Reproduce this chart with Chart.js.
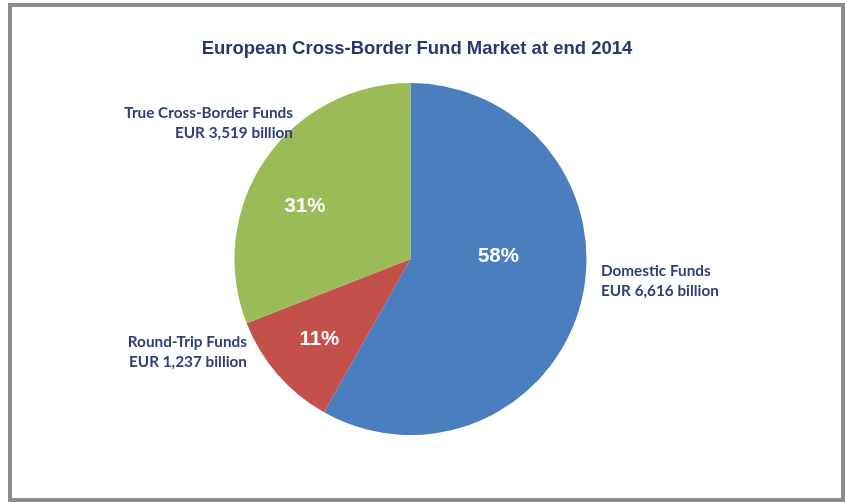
<!DOCTYPE html>
<html>
<head>
<meta charset="utf-8">
<script src="https://cdn.jsdelivr.net/npm/chart.js@4"></script>
<style>
  html, body { margin: 0; padding: 0; background: #ffffff; }
  body { width: 845px; height: 502px; position: relative; overflow: hidden; }
  #frame {
    position: absolute; left: 8px; top: 3px;
    width: 829px; height: 491px;
    border: 4px solid #8c8c8c; background: #ffffff;
  }
  #chart { position: absolute; left: 0; top: 0; }
</style>
</head>
<body>
<div id="frame"></div>
<canvas id="chart" width="845" height="502"></canvas>
<script>
// Fund market segments, EUR billion, end 2014
const categories = ['Domestic Funds', 'Round-Trip Funds', 'True Cross-Border Funds'];
const values = [6616, 1237, 3519];
const colors = ['#4a7ebf', '#c4504c', '#9bbb59'];
const titleText = 'European Cross-Border Fund Market at end 2014';

// Label placement, in units of the pie radius / share of each slice's sweep
const pctLabelLayout = [
  { along: 0.42, radial: 0.50 },
  { along: 0.49, radial: 0.69 },
  { along: 0.43, radial: 0.67 }
];
const nameLabelLayout = [
  { dx: 1.082, dy: 0.125, align: 'left' },
  { dx: -0.929, dy: 0.531, align: 'right' },
  { dx: -0.668, dy: -0.773, align: 'right' }
];

const total = values.reduce((a, b) => a + b, 0);

const labelsPlugin = {
  id: 'pieLabels',
  afterDraw(chart) {
    const ctx = chart.ctx;
    const arcs = chart.getDatasetMeta(0).data;
    ctx.save();

    // title
    ctx.fillStyle = '#26396f';
    ctx.font = 'bold 18.5px "Liberation Sans", Arial, sans-serif';
    ctx.textAlign = 'center';
    ctx.textBaseline = 'middle';
    ctx.fillText(titleText, 417, 49);

    arcs.forEach((arc, i) => {
      const p = arc.getProps(['x', 'y', 'startAngle', 'endAngle', 'outerRadius'], true);
      const r = p.outerRadius;

      // percentage inside the slice
      const a = p.startAngle + (p.endAngle - p.startAngle) * pctLabelLayout[i].along;
      const d = r * pctLabelLayout[i].radial;
      ctx.fillStyle = '#ffffff';
      ctx.font = 'bold 20.5px "Liberation Sans", Arial, sans-serif';
      ctx.textAlign = 'center';
      ctx.textBaseline = 'middle';
      ctx.fillText(Math.round(values[i] / total * 100) + '%', p.x + Math.cos(a) * d, p.y + Math.sin(a) * d);

      // category name and amount beside the pie
      const L = nameLabelLayout[i];
      const lx = p.x + L.dx * r;
      const ly = p.y + L.dy * r;
      ctx.fillStyle = '#2f3d78';
      ctx.font = 'bold 15.3px Lato, "Open Sans", sans-serif';
      ctx.textAlign = L.align;
      ctx.fillText(categories[i], lx, ly - 10);
      ctx.fillText('EUR ' + values[i].toLocaleString('en-US') + ' billion', lx, ly + 10);
    });
    ctx.restore();
  }
};

new Chart(document.getElementById('chart'), {
  type: 'pie',
  data: {
    labels: categories,
    datasets: [{
      data: values,
      backgroundColor: colors,
      borderWidth: 0
    }]
  },
  options: {
    responsive: false,
    animation: false,
    layout: { padding: { left: 234.5, right: 258.5, top: 83, bottom: 67 } },
    plugins: {
      legend: { display: false },
      tooltip: { enabled: false },
      title: { display: false }
    }
  },
  plugins: [labelsPlugin]
});
</script>
</body>
</html>
